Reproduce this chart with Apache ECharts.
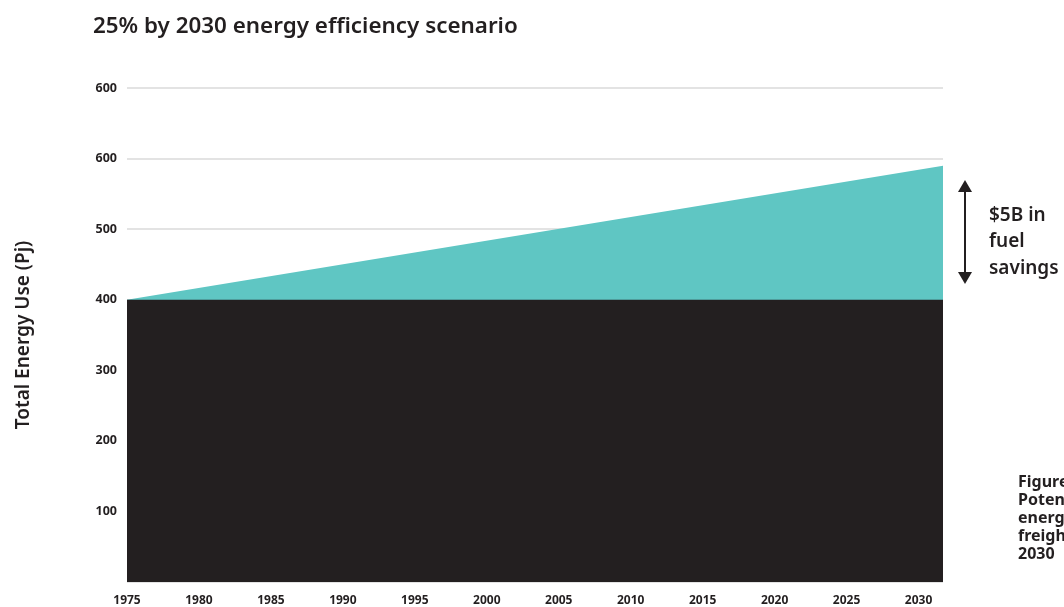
<!DOCTYPE html>
<html>
<head>
<meta charset="utf-8">
<script src="https://cdn.jsdelivr.net/npm/echarts@6/dist/echarts.min.js"></script>
<style>html,body{margin:0;padding:0;background:#fff;}#c{width:1064px;height:607px;}</style>
</head>
<body>
<div id="c"></div>
<script>
// ---- data ----
const years = [1975, 2031.7];
const baseline = [400, 400];          // energy use with efficiency (black)
const businessAsUsual = [400, 590];   // energy use without efficiency (teal)
const yTickLabels = ['', '100', '200', '300', '400', '500', '600', '600'];
const titleText = '25% by 2030 energy efficiency scenario';
const yAxisName = 'Total Energy Use (Pj)';
const savingsLines = ['$5B in', 'fuel', 'savings'];
const figureLines = ['Figure', 'Potential', 'energy', 'freight', '2030'];

const dark = '#231f20';
const teal = '#5fc6c3';
const font = '"Noto Sans", sans-serif';

const chart = echarts.init(document.getElementById('c'));
chart.setOption({
  animation: false,
  backgroundColor: '#fff',
  title: {
    text: titleText, left: 88, top: 11,
    textStyle: { fontFamily: font, fontWeight: 600, fontSize: 22.4, color: dark }
  },
  grid: { left: 127, right: 121, top: 88, bottom: 24 },
  xAxis: {
    type: 'value', min: 1975, max: 2031.7, interval: 5,
    axisLine: { show: false }, axisTick: { show: false }, splitLine: { show: false },
    axisLabel: {
      showMaxLabel: false, margin: 13,
      formatter: v => (Math.abs(v % 5) < 1e-6 ? String(Math.round(v)) : ''),
      fontFamily: font, fontWeight: 'bold', fontSize: 12, color: dark
    }
  },
  yAxis: {
    type: 'value', min: 0, max: 700, interval: 100,
    name: yAxisName, nameLocation: 'middle', nameGap: 94, nameRotate: 90,
    nameTextStyle: { fontFamily: font, fontWeight: 600, fontSize: 19, color: dark },
    axisLine: { show: false }, axisTick: { show: false },
    splitLine: { lineStyle: { color: '#e3e3e3', width: 2 } },
    axisLabel: {
      margin: 10,
      formatter: v => yTickLabels[Math.round(v / 100)] || '',
      fontFamily: font, fontWeight: 'bold', fontSize: 12.5, color: dark
    }
  },
  series: [
    {
      type: 'line', data: years.map((y, i) => [y, businessAsUsual[i]]),
      symbol: 'none', lineStyle: { width: 0 }, areaStyle: { color: teal, opacity: 1 }, z: 2
    },
    {
      type: 'line', data: years.map((y, i) => [y, baseline[i]]),
      symbol: 'none', lineStyle: { width: 0 }, areaStyle: { color: dark, opacity: 1 }, z: 3
    }
  ],
  graphic: [
    { type: 'line', shape: { x1: 965, y1: 190, x2: 965, y2: 274 }, style: { stroke: dark, lineWidth: 2 } },
    { type: 'polygon', shape: { points: [[958, 192], [972, 192], [965, 180]] }, style: { fill: dark } },
    { type: 'polygon', shape: { points: [[958, 272], [972, 272], [965, 284]] }, style: { fill: dark } },
    ...savingsLines.map((t, i) => ({
      type: 'text', left: 989, top: 206 + i * 26.5,
      style: { text: t, font: '600 19px "Noto Sans", sans-serif', fill: dark }
    })),
    ...figureLines.map((t, i) => ({
      type: 'text', left: 1018, top: 474 + i * 18,
      style: { text: t, font: 'bold 16px "Noto Sans", sans-serif', fill: dark }
    }))
  ]
});
</script>
</body>
</html>
